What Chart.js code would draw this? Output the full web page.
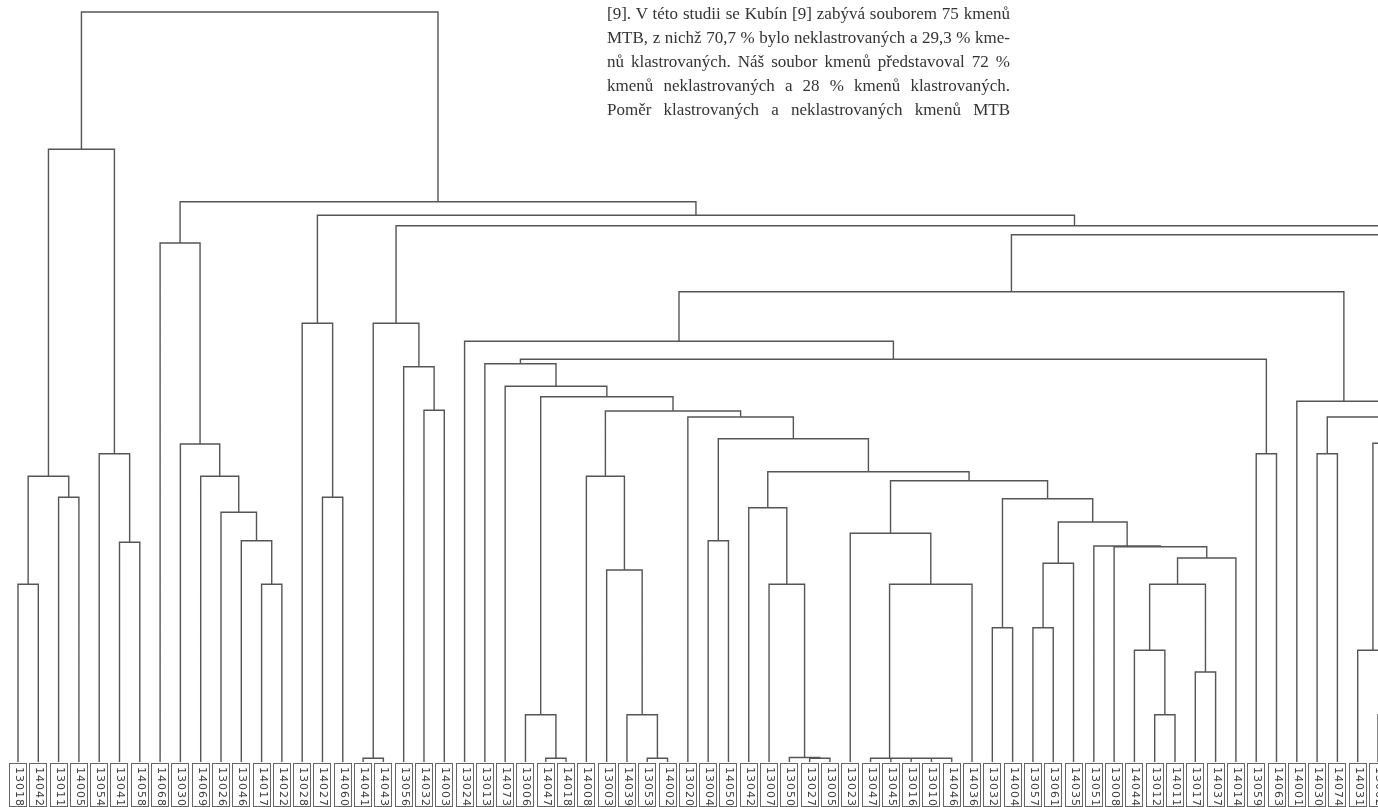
<!DOCTYPE html>
<html>
<head>
<meta charset="utf-8">
<script src="https://cdn.jsdelivr.net/npm/chart.js@4.4.1/dist/chart.umd.min.js"></script>
<style>
    html, body { margin: 0; padding: 0; background: #fff; }
    #wrap { position: relative; width: 1378px; height: 807px; overflow: hidden; }
    #text {
        position: absolute; left: 607px; top: 2px; width: 403px;
        font-family: "Liberation Serif", serif; font-size: 17px; line-height: 24px;
        color: #333;
    }
    #text div { text-align: justify; text-align-last: justify; white-space: nowrap; }
</style>
</head>
<body>
<div id="wrap">
    <canvas id="dendro" width="1378" height="807"></canvas>
    <div id="text">
        <div>[9]. V této studii se Kubín [9] zabývá souborem 75 kmenů</div>
        <div>MTB, z nichž 70,7 % bylo neklastrovaných a 29,3 % kme-</div>
        <div>nů klastrovaných. Náš soubor kmenů představoval 72 %</div>
        <div>kmenů neklastrovaných a 28 % kmenů klastrovaných.</div>
        <div>Poměr klastrovaných a neklastrovaných kmenů MTB</div>
    </div>
</div>
<script>
// leaf order along the x axis (index = position)
const leafLabels = [
    '13018', '14042', '13011', '14005', '13054', '13041', '14058', '14068', '13030', '14069',
    '13026', '13046', '14017', '14022', '13028', '14027', '14060', '14041', '14043', '13056',
    '14032', '14003', '13024', '13013', '14073', '13006', '14047', '14018', '14008', '13003',
    '14039', '13053', '14002', '13020', '13004', '14050', '13042', '13007', '13050', '13027',
    '13005', '13023', '13047', '13045', '13016', '13010', '14046', '14036', '13032', '14004',
    '13057', '13061', '14035', '13051', '13008', '14044', '13012', '14011', '13017', '14037',
    '14014', '13059', '14063', '14001', '14030', '14074', '14031', '13062', ''
];

// branches that continue past the right edge of the page (leaf position)
const offPage = [['a', 74.8], ['b', 122]];

// [id, left, right, distance]; number = leaf index, string = earlier merge / off-page branch
const merges = [
    ['m1', 0, 1, 23.7],
    ['m2', 2, 3, 35.3],
    ['m3', 'm1', 'm2', 38.1],
    ['m4', 5, 6, 29.3],
    ['m5', 4, 'm4', 41.1],
    ['m6', 'm3', 'm5', 81.7],
    ['m7', 12, 13, 23.7],
    ['m8', 11, 'm7', 29.5],
    ['m9', 10, 'm8', 33.3],
    ['m10', 9, 'm9', 38.1],
    ['m11', 8, 'm10', 42.4],
    ['m12', 7, 'm11', 69.2],
    ['m13', 15, 16, 35.3],
    ['m14', 14, 'm13', 58.5],
    ['m15', 17, 18, 0.5],
    ['m16', 20, 21, 46.9],
    ['m17', 19, 'm16', 52.7],
    ['m18', 'm15', 'm17', 58.5],
    ['m19', 26, 27, 0.5],
    ['m20', 25, 'm19', 6.3],
    ['m21', 31, 32, 0.5],
    ['m22', 30, 'm21', 6.3],
    ['m23', 29, 'm22', 25.6],
    ['m24', 28, 'm23', 38.1],
    ['m25', 39, 40, 0.5],
    ['m26', 38, 'm25', 0.6],
    ['m27', 37, 'm26', 23.7],
    ['m28', 36, 'm27', 33.9],
    ['m29', 45, 46, 0.5],
    ['m30', 44, 'm29', 0.5],
    ['m31', 43, 'm30', 0.5],
    ['m32', 42, 'm31', 0.5],
    ['m33', 'm32', 47, 23.7],
    ['m34', 41, 'm33', 30.5],
    ['m35', 48, 49, 17.9],
    ['m36', 50, 51, 17.9],
    ['m37', 'm36', 52, 26.5],
    ['m38', 56, 57, 6.3],
    ['m39', 55, 'm38', 14.9],
    ['m40', 58, 59, 12.0],
    ['m41', 'm39', 'm40', 23.7],
    ['m42', 'm41', 60, 27.2],
    ['m43', 54, 'm42', 28.7],
    ['m44', 53, 'm43', 28.8],
    ['m45', 'm37', 'm44', 32.0],
    ['m46', 'm35', 'm45', 35.1],
    ['m47', 'm34', 'm46', 37.5],
    ['m48', 'm28', 'm47', 38.7],
    ['m49', 34, 35, 29.5],
    ['m50', 'm49', 'm48', 43.1],
    ['m51', 33, 'm50', 46.0],
    ['m52', 'm24', 'm51', 46.8],
    ['m53', 'm20', 'm52', 48.7],
    ['m54', 24, 'm53', 50.1],
    ['m55', 23, 'm54', 53.1],
    ['m56', 61, 62, 41.1],
    ['m57', 'm55', 'm56', 53.7],
    ['m58', 22, 'm57', 56.1],
    ['m59', 64, 65, 41.1],
    ['m60', 67, 68, 6.3],
    ['m61', 66, 'm60', 14.9],
    ['m62', 'm61', 'a', 42.5],
    ['m63', 'm59', 'm62', 46.0],
    ['m64', 63, 'm63', 48.1],
    ['m65', 'm58', 'm64', 62.7],
    ['m66', 'm65', 'b', 70.3],
    ['m67', 'm18', 'm66', 71.5],
    ['m68', 'm14', 'm67', 72.9],
    ['m69', 'm12', 'm68', 74.7],
    ['m70', 'm6', 'm69', 100]
];

// node positions: leaves sit at their index, merges halfway between children
const nodes = new Map();
offPage.forEach(([id, pos]) => nodes.set(id, {x: pos, h: 0}));
function nodeOf(ref) {
    if (typeof ref === 'number') return {x: ref, h: 0};
    return nodes.get(ref);
}

const links = [];
for (const [id, l, r, h] of merges) {
    const a = nodeOf(l), b = nodeOf(r);
    links.push({x: a.x, y: a.h}, {x: a.x, y: h}, {x: b.x, y: h}, {x: b.x, y: b.h}, {x: null, y: null});
    nodes.set(id, {x: (a.x + b.x) / 2, h: h});
}

const leafBoxes = {
    id: 'leafBoxes',
    afterDraw(chart) {
        const ctx = chart.ctx;
        const xs = chart.scales.x;
        const top = chart.chartArea.bottom + 1;
        ctx.save();
        ctx.strokeStyle = '#666';
        ctx.fillStyle = '#3a3a3a';
        ctx.lineWidth = 1;
        ctx.font = '11px "DejaVu Sans"';
        ctx.letterSpacing = '1px';
        ctx.textBaseline = 'middle';
        ctx.textAlign = 'left';
        leafLabels.forEach((lab, i) => {
            if (!lab) return;
            const x = Math.round(xs.getPixelForValue(i));
            ctx.strokeRect(x - 8.5, top + 0.5, 17, 43);
            ctx.save();
            ctx.translate(x + 0.5, top + 4);
            ctx.rotate(Math.PI / 2);
            ctx.fillText(lab, 0, 0);
            ctx.restore();
        });
        ctx.restore();
    }
};

new Chart(document.getElementById('dendro'), {
    type: 'scatter',
    data: {
        datasets: [{
            data: links,
            showLine: true,
            spanGaps: false,
            borderColor: '#555',
            borderWidth: 1.4,
            pointRadius: 0,
            pointHoverRadius: 0,
            tension: 0
        }]
    },
    options: {
        responsive: false,
        animation: false,
        events: [],
        layout: { padding: { top: 0, left: 0, right: 0, bottom: 45 } },
        plugins: {
            legend: { display: false },
            tooltip: { enabled: false }
        },
        scales: {
            x: { type: 'linear', display: false, min: -0.887, max: 67.0 },
            y: { type: 'linear', display: false, min: 0, max: 101.6 }
        }
    },
    plugins: [leafBoxes]
});
</script>
</body>
</html>
